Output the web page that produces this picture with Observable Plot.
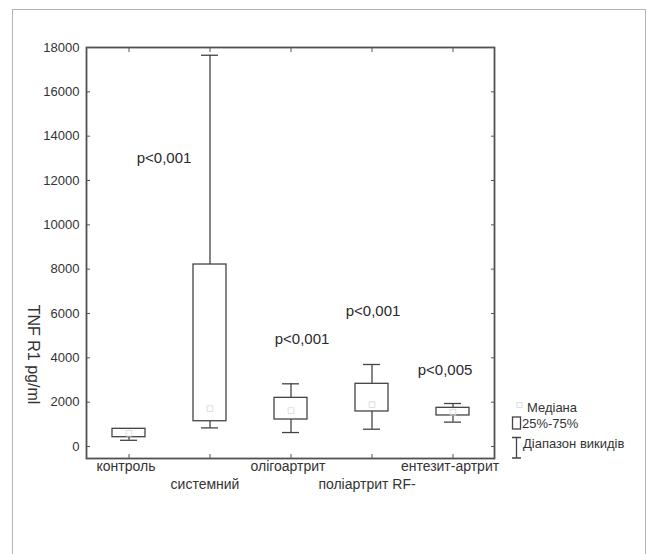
<!DOCTYPE html>
<html>
<head>
<meta charset="utf-8">
<script src="https://cdn.jsdelivr.net/npm/d3@7"></script>
<script src="https://cdn.jsdelivr.net/npm/@observablehq/plot@0.6"></script>
<style>
  html, body { margin: 0; padding: 0; background: #fff; }
  #wrap { position: relative; width: 650px; height: 554px; overflow: hidden; font-family: "Liberation Sans", Arial, sans-serif; }
  #border { position: absolute; left: 12px; top: 9px; width: 634px; height: 600px; border: 1.5px solid #b4b4b4; box-sizing: border-box; }
  #chart { position: absolute; left: 0; top: 0; }
  #legend { position: absolute; left: 0; top: 0; width: 650px; height: 554px; pointer-events: none; }
</style>
</head>
<body>
<div id="wrap">
  <div id="border"></div>
  <div id="chart"></div>
  <svg id="legend" width="650" height="554"></svg>
</div>
<script>
// ---- data ----
const categories = ["контроль", "системний", "олігоартрит", "поліартрит RF-", "ентезит-артрит"];
const whiskerLow  = [280, 840, 630, 780, 1100];
const q1          = [420, 1140, 1218, 1580, 1400];
const median      = [600, 1710, 1620, 1890, 1550];
const q3          = [798, 8210, 2195, 2828, 1745];
const whiskerHigh = [800, 17650, 2828, 3700, 1940];

const yTicks = [0, 2000, 4000, 6000, 8000, 10000, 12000, 14000, 16000, 18000];
const yLabel = "TNF R1 pg/ml";

const pGroups = ["системний", "олігоартрит", "поліартрит RF-", "ентезит-артрит"];
const pValues = [13000, 4830, 6090, 3460];
const pTexts  = ["p<0,001", "p<0,001", "p<0,001", "p<0,005"];

const legendLabels = ["Медіана", "25%-75%", "Діапазон викидів"];

// ---- tables built from arrays ----
const boxes = categories.map((c, i) => ({cat: c, lo: whiskerLow[i], q1: q1[i], med: median[i], q3: q3[i], hi: whiskerHigh[i]}));
const pAnn = pGroups.map((g, i) => ({cat: g, y: pValues[i], text: pTexts[i]}));
const pDx = [-46, 11, 1, -8];

const ink = "#444";
const fontFam = "'Liberation Sans', Arial, sans-serif";

const plot = Plot.plot({
  width: 650,
  height: 554,
  marginLeft: 86,
  marginRight: 156,
  marginTop: 47,
  marginBottom: 96,
  style: {fontFamily: fontFam, color: "#333", background: "transparent"},
  x: {type: "band", domain: categories, padding: 0},
  y: {domain: [-541, 18000]},
  marks: [
    Plot.frame({stroke: "#505050", strokeWidth: 1.8}),
    // y tick labels
    Plot.axisY(yTicks, {anchor: "left", tickSize: 0, tickPadding: 7, tickFormat: d => String(d), fontSize: 13, label: null}),
    // inward tick marks
    Plot.axisY(yTicks, {anchor: "left", tickSize: 4, text: null, dx: 4, label: null, stroke: "#555"}),
    Plot.axisY(yTicks, {anchor: "right", tickSize: 4, text: null, dx: -4, label: null, stroke: "#555"}),
    Plot.axisX(categories, {anchor: "top", tickSize: 4, text: null, dy: 4, label: null, stroke: "#555"}),
    Plot.axisX(categories, {anchor: "bottom", tickSize: 4, text: null, dy: -4, label: null, stroke: "#555"}),
    // staggered category labels
    Plot.axisX(categories.filter((c, i) => i % 2 === 0), {anchor: "bottom", tickSize: 0, tickPadding: 3, dx: -3, fontSize: 14, label: null}),
    Plot.axisX(categories.filter((c, i) => i % 2 === 1), {anchor: "bottom", tickSize: 0, tickPadding: 21, dx: -5, fontSize: 14, label: null}),
    // y label
    Plot.text([yLabel], {text: d => d, frameAnchor: "left", textAnchor: "middle", y: [4150], dx: -53, rotate: 90, fontSize: 16, fill: "#333"}),
    // whiskers
    Plot.ruleX(boxes, {x: "cat", y1: "q3", y2: "hi", stroke: ink, strokeWidth: 1.3}),
    Plot.ruleX(boxes, {x: "cat", y1: "lo", y2: "q1", stroke: ink, strokeWidth: 1.3}),
    Plot.tickY(boxes, {x: "cat", y: "hi", insetLeft: 32, insetRight: 32, stroke: ink, strokeWidth: 1.3}),
    Plot.tickY(boxes, {x: "cat", y: "lo", insetLeft: 32, insetRight: 32, stroke: ink, strokeWidth: 1.3}),
    // boxes
    Plot.barY(boxes, {x: "cat", y1: "q1", y2: "q3", insetLeft: 24, insetRight: 24, fill: "white", stroke: ink, strokeWidth: 1.3}),
    // median
    Plot.dot(boxes, {x: "cat", y: "med", symbol: "square", r: 3.2, stroke: "#dcdcdc", strokeWidth: 1, fill: "none"}),
    // p-values
    ...pAnn.map((d, i) => Plot.text([d], {x: "cat", y: "y", text: "text", dx: pDx[i], fontSize: 15, fill: "#2a2a2a"}))
  ]
});
document.getElementById("chart").appendChild(plot);

// ---- legend ----
const leg = d3.select("#legend");
leg.append("rect").attr("x", 517).attr("y", 402.5).attr("width", 5).attr("height", 5)
  .attr("fill", "none").attr("stroke", "#ddd");
leg.append("rect").attr("x", 512.5).attr("y", 417).attr("width", 8).attr("height", 12)
  .attr("fill", "none").attr("stroke", "#444").attr("stroke-width", 1.3);
leg.append("path").attr("d", "M512,437.5H521M516.5,437.5V458M512,458H521")
  .attr("fill", "none").attr("stroke", "#444").attr("stroke-width", 1.3);
const legX = [527, 522, 523];
const legY = [407, 423, 443];
legendLabels.forEach((t, i) => {
  leg.append("text").attr("x", legX[i]).attr("y", legY[i]).attr("dy", "0.35em")
    .attr("font-family", fontFam).attr("font-size", 13).attr("fill", "#333").text(t);
});
</script>
</body>
</html>
